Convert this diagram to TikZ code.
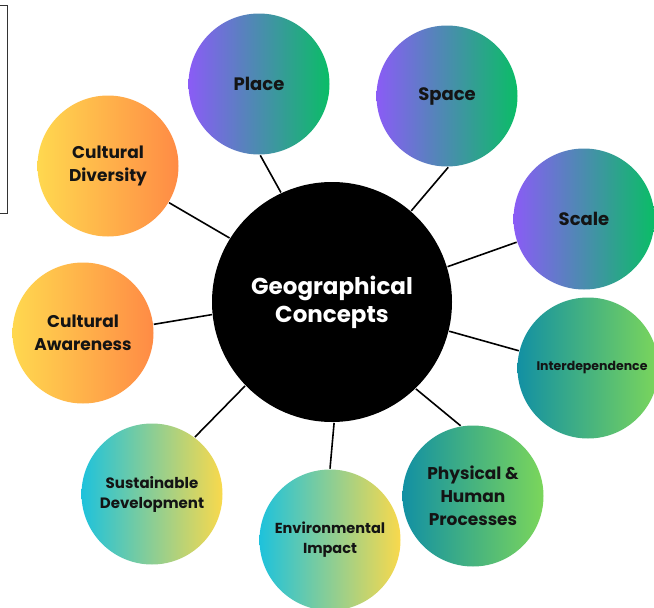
\documentclass[tikz,border=0pt]{standalone}
\usepackage{fontspec}
\setmainfont{Poppins}
\def\bigsize{240pt}
\def\smallsize{141pt}
\definecolor{purpA}{HTML}{8A5CF6}
\definecolor{grnA}{HTML}{0ABD66}
\definecolor{ylwA}{HTML}{FFD84F}
\definecolor{orgA}{HTML}{FF8B45}
\definecolor{tealA}{HTML}{1290A3}
\definecolor{lgrnA}{HTML}{7BD65B}
\definecolor{cynA}{HTML}{1EC2DC}
\definecolor{sandA}{HTML}{F9D94C}
\definecolor{inkA}{HTML}{141414}

\begin{document}
\begin{tikzpicture}[x=1pt,y=-1pt,line width=1.6pt]
            \tikzstyle{concept}=[circle,minimum size=\smallsize,inner sep=0pt,align=center,text=inkA,font=\bfseries]
            \tikzstyle{cool concept}=[concept,left color=purpA,right color=grnA]
            \tikzstyle{warm concept}=[concept,left color=ylwA,right color=orgA]
            \tikzstyle{sea concept}=[concept,left color=tealA,right color=lgrnA]
            \tikzstyle{sun concept}=[concept,left color=cynA,right color=sandA]
            \tikzstyle{hub}=[circle,fill=black,minimum size=\bigsize,inner sep=0pt,align=center,text=white,font=\bfseries\fontsize{23}{28}\selectfont]

            \useasboundingbox (0,0) rectangle (654,608);

            % the box cut by the left edge
            \draw[line width=0.8pt,black!80] (-10,5) rectangle (7,213);

            \node[hub] (HUB) at (332,302) {Geographical\\Concepts};

            % Draw the concept circles
            \foreach \name/\kind/\x/\y/\sz/\ld/\txt in {
                PLACE/cool/259/84/18/22/{Place},
                SPACE/cool/447/96/18/22/{Space},
                SCALE/cool/584/219/18/22/{Scale},
                INTER/sea/588/368/12.5/15/{\hspace*{8pt}Interdependence},
                PROC/sea/473/496/17/23/{Physical \&\\Human\\Processes},
                ENV/sun/330/540/14.5/20/{Environmental\\Impact},
                SUST/sun/152/494/15/20/{Sustainable\\Development},
                AWARE/warm/83/333/17/23/{Cultural\\Awareness},
                DIVERS/warm/108/166/17/23/{Cultural\\Diversity}}
                \node[\kind\space concept,font=\bfseries\fontsize{\sz}{\ld}\selectfont] (\name) at (\x,\y) {\txt};

            % Connect the hub with every concept
            % (angle on the hub / angle on the concept)
            \foreach \name/\a/\b in {PLACE/115.5/-89, SPACE/49.4/-89, SCALE/17.8/199,
                                     INTER/-14.1/166, PROC/-46.3/100, ENV/-89.5/90,
                                     SUST/-136.7/53.3, AWARE/186.7/7.4, DIVERS/148.5/-31.7}
                \draw (HUB.\a) -- (\name.\b);
\end{tikzpicture}
\end{document}
